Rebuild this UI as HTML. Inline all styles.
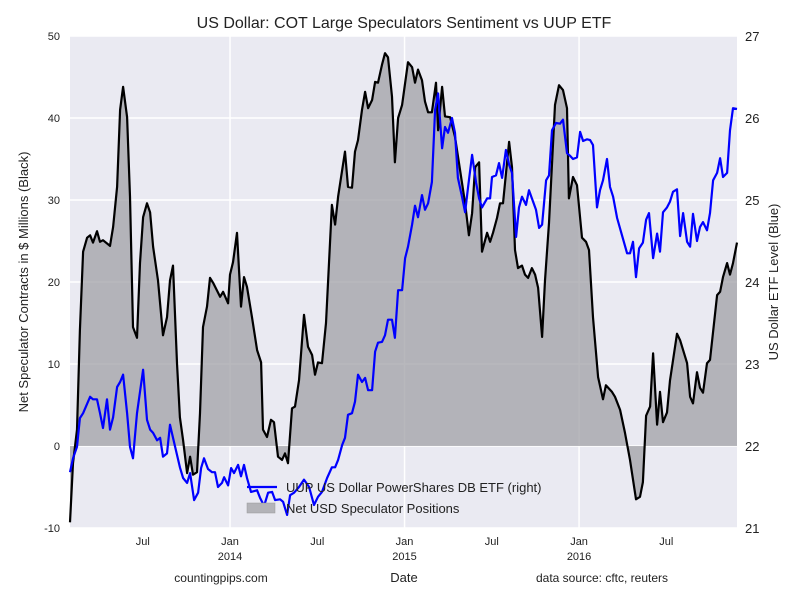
<!DOCTYPE html>
<html><head><meta charset="utf-8"><style>
body{margin:0;background:#fff;}
svg text{font-family:"Liberation Sans",Arial,sans-serif;}
</style></head><body>
<svg id="chart" width="800" height="600" xmlns="http://www.w3.org/2000/svg">
<rect x="0" y="0" width="800" height="600" fill="#fff"/>
<rect x="70" y="36" width="667" height="492" fill="#eaeaf2"/>
<g id="grid"></g>
<g id="marks"></g>
<g id="axes"></g>
<text x="404" y="28" font-size="16" text-anchor="middle" fill="#222">US Dollar: COT Large Speculators Sentiment vs UUP ETF</text>
<text transform="translate(28,282) rotate(-90)" font-size="13" text-anchor="middle" fill="#222">Net Speculator Contracts in $ Millions (Black)</text>
<text transform="translate(778,282) rotate(-90)" font-size="13" text-anchor="middle" fill="#222">US Dollar ETF Level (Blue)</text>
<text x="404" y="582" font-size="13" text-anchor="middle" fill="#222">Date</text>
<text x="221" y="582" font-size="12" text-anchor="middle" fill="#222">countingpips.com</text>
<text x="602" y="582" font-size="12" text-anchor="middle" fill="#222">data source: cftc, reuters</text>
<g>
<line x1="247" y1="487" x2="277" y2="487" stroke="#0000ff" stroke-width="2.2"/>
<text x="286" y="492" font-size="13" fill="#222">UUP US Dollar PowerShares DB ETF (right)</text>
<rect x="247" y="503" width="28" height="10" fill="#b3b3b8" stroke="#999" stroke-width="0.5"/>
<text x="286" y="513" font-size="13" fill="#222">Net USD Speculator Positions</text>
</g>
</svg>
<script>
const netDates=[2013.083,2013.100,2013.123,2013.140,2013.158,2013.181,2013.198,2013.215,2013.238,2013.255,2013.272,2013.312,2013.330,2013.353,2013.370,2013.387,2013.410,2013.427,2013.444,2013.467,2013.484,2013.502,2013.524,2013.542,2013.559,2013.587,2013.616,2013.639,2013.656,2013.673,2013.696,2013.713,2013.731,2013.754,2013.771,2013.788,2013.811,2013.828,2013.845,2013.868,2013.885,2013.903,2013.943,2013.960,2013.989,2014.000,2014.017,2014.040,2014.063,2014.080,2014.097,2014.126,2014.155,2014.178,2014.189,2014.212,2014.235,2014.252,2014.275,2014.298,2014.315,2014.332,2014.355,2014.372,2014.395,2014.424,2014.447,2014.470,2014.487,2014.504,2014.527,2014.550,2014.584,2014.602,2014.619,2014.659,2014.676,2014.699,2014.716,2014.733,2014.756,2014.774,2014.791,2014.814,2014.831,2014.848,2014.871,2014.888,2014.905,2014.928,2014.945,2014.963,2014.986,2015.020,2015.043,2015.060,2015.077,2015.100,2015.117,2015.135,2015.157,2015.180,2015.192,2015.215,2015.232,2015.261,2015.289,2015.318,2015.347,2015.369,2015.387,2015.404,2015.427,2015.444,2015.473,2015.490,2015.507,2015.530,2015.547,2015.564,2015.599,2015.616,2015.633,2015.650,2015.673,2015.690,2015.708,2015.730,2015.748,2015.765,2015.788,2015.805,2015.828,2015.862,2015.885,2015.908,2015.931,2015.942,2015.965,2015.988,2016.017,2016.040,2016.057,2016.080,2016.109,2016.137,2016.154,2016.189,2016.206,2016.235,2016.263,2016.292,2016.326,2016.349,2016.366,2016.384,2016.407,2016.424,2016.447,2016.464,2016.481,2016.504,2016.521,2016.561,2016.579,2016.619,2016.636,2016.653,2016.676,2016.693,2016.710,2016.733,2016.750,2016.791,2016.808,2016.825,2016.848,2016.865,2016.882,2016.905];
const netValues=[-9.3,-2.1,2.0,14.1,23.7,25.4,25.7,24.8,26.2,24.9,25.1,24.4,26.7,31.6,41.0,43.8,40.1,30.4,14.5,13.2,22.3,27.9,29.6,28.5,24.3,20.2,13.5,15.7,20.2,22.0,10.1,3.5,0.7,-3.3,-1.3,-3.5,-3.2,4.0,14.5,17.0,20.5,19.9,18.2,18.8,17.4,20.9,22.4,26.0,17.0,20.6,19.4,15.7,11.7,10.2,2.0,1.1,3.2,2.9,-1.3,-1.7,-0.9,-2.1,4.6,4.8,8.0,16.0,12.1,11.1,8.7,10.2,10.1,15.0,29.4,27.0,30.4,35.9,31.6,31.5,35.9,37.3,41.0,43.2,41.2,42.2,44.4,44.3,46.5,47.9,47.4,42.6,34.6,40.0,41.6,46.8,46.2,44.3,45.9,44.6,42.0,40.7,40.7,44.3,38.5,43.8,40.2,40.1,37.7,33.7,29.6,25.7,28.4,34.0,34.6,23.7,26.0,24.9,26.0,27.8,29.6,29.6,37.1,34.0,23.9,21.7,22.0,20.9,20.5,21.7,20.9,19.3,13.3,20.2,27.2,41.6,44.0,43.4,41.2,30.2,32.8,31.8,25.4,24.9,23.9,15.7,8.4,5.7,7.4,6.6,6.0,4.4,1.6,-1.7,-6.5,-6.2,-4.4,3.7,4.8,11.3,2.6,6.6,2.9,4.1,8.0,13.7,12.9,10.1,6.0,5.2,9.0,7.1,6.5,10.1,10.5,18.4,18.8,20.6,22.3,20.9,22.3,24.8];
const uupDates=[2013.083,2013.100,2013.123,2013.140,2013.158,2013.198,2013.215,2013.238,2013.255,2013.272,2013.295,2013.312,2013.330,2013.353,2013.370,2013.387,2013.410,2013.427,2013.444,2013.467,2013.484,2013.502,2013.524,2013.542,2013.559,2013.582,2013.599,2013.616,2013.639,2013.656,2013.685,2013.713,2013.731,2013.754,2013.771,2013.794,2013.817,2013.834,2013.851,2013.874,2013.897,2013.914,2013.931,2013.954,2013.966,2013.989,2014.006,2014.023,2014.046,2014.063,2014.080,2014.097,2014.120,2014.155,2014.172,2014.195,2014.218,2014.241,2014.258,2014.287,2014.304,2014.327,2014.344,2014.367,2014.395,2014.424,2014.453,2014.481,2014.504,2014.527,2014.556,2014.584,2014.602,2014.619,2014.642,2014.659,2014.676,2014.699,2014.716,2014.733,2014.756,2014.774,2014.791,2014.814,2014.831,2014.848,2014.871,2014.888,2014.905,2014.928,2014.945,2014.963,2014.986,2015.003,2015.020,2015.043,2015.060,2015.077,2015.100,2015.117,2015.135,2015.157,2015.175,2015.192,2015.215,2015.232,2015.249,2015.272,2015.289,2015.306,2015.329,2015.347,2015.364,2015.387,2015.410,2015.427,2015.444,2015.473,2015.490,2015.501,2015.524,2015.541,2015.559,2015.581,2015.599,2015.616,2015.639,2015.656,2015.673,2015.696,2015.713,2015.730,2015.753,2015.771,2015.788,2015.811,2015.828,2015.845,2015.868,2015.891,2015.908,2015.931,2015.948,2015.965,2015.988,2016.006,2016.023,2016.046,2016.063,2016.080,2016.103,2016.120,2016.137,2016.160,2016.177,2016.195,2016.218,2016.246,2016.275,2016.292,2016.309,2016.326,2016.344,2016.366,2016.384,2016.401,2016.424,2016.447,2016.464,2016.481,2016.504,2016.521,2016.538,2016.561,2016.579,2016.596,2016.619,2016.636,2016.653,2016.676,2016.693,2016.710,2016.733,2016.750,2016.768,2016.791,2016.808,2016.825,2016.848,2016.865,2016.882,2016.905];
const uupValues=[21.68,21.85,21.99,22.34,22.40,22.60,22.57,22.57,22.40,22.22,22.57,22.20,22.35,22.72,22.78,22.87,22.40,21.99,21.85,22.40,22.66,22.93,22.32,22.20,22.16,22.07,22.10,21.87,21.91,22.26,21.99,21.74,21.61,21.55,21.67,21.34,21.43,21.73,21.85,21.72,21.68,21.68,21.50,21.55,21.62,21.52,21.73,21.67,21.77,21.63,21.77,21.61,21.44,21.46,21.37,21.27,21.43,21.44,21.34,21.35,21.32,21.16,21.40,21.43,21.50,21.59,21.50,21.28,21.38,21.44,21.61,21.74,21.74,21.83,22.01,22.10,22.38,22.40,22.54,22.87,22.78,22.83,22.68,22.68,23.15,23.26,23.27,23.35,23.54,23.54,23.32,23.90,23.90,24.29,24.43,24.70,24.93,24.79,25.06,24.88,24.96,25.22,26.10,26.30,25.63,25.89,25.82,26.00,25.82,25.27,25.04,24.85,25.16,25.55,25.21,25.02,24.91,25.02,25.02,25.28,25.30,25.45,25.27,25.61,25.43,25.33,24.55,24.91,25.04,24.94,25.12,25.02,24.88,24.66,24.70,25.24,25.30,25.85,25.94,25.93,25.98,25.57,25.54,25.50,25.52,25.83,25.72,25.74,25.73,25.67,24.91,25.12,25.24,25.50,25.16,25.04,24.78,24.57,24.35,24.35,24.49,24.06,24.41,24.48,24.76,24.84,24.29,24.59,24.37,24.85,24.91,24.98,25.10,25.13,24.56,24.84,24.49,24.43,24.83,24.50,24.67,24.73,24.63,24.84,25.24,25.33,25.51,25.28,25.33,25.85,26.12,26.11];
const leftTicks=[-10,0,10,20,30,40,50];
const rightTicks=[21,22,23,24,25,26,27];
const xTickDates=[2013.5,2014.0,2014.5,2015.0,2015.5,2016.0,2016.5];
const xTickLabels=["Jul","Jan\n2014","Jul","Jan\n2015","Jul","Jan\n2016","Jul"];

const X0=70,X1=737,Y0=36,Y1=528;
const dMin=2013.083,dMax=2016.905;
function xs(t){return X0+(t-dMin)/(dMax-dMin)*(X1-X0);}
function yl(v){return Y1-(v+10)/60*(Y1-Y0);}
function yr(v){return Y1-(v-21)/6*(Y1-Y0);}
const NS="http://www.w3.org/2000/svg";
function mk(tag,attrs,parent){const e=document.createElementNS(NS,tag);for(const k in attrs)e.setAttribute(k,attrs[k]);parent.appendChild(e);return e;}
const grid=document.getElementById('grid'),marks=document.getElementById('marks'),axes=document.getElementById('axes');

leftTicks.forEach((v,i)=>{
  const g=mk('line',{x1:X0,x2:X1,y1:yl(v),y2:yl(v),stroke:'#fff','stroke-width':1.5},grid);
  
  
  const t=mk('text',{x:60,y:yl(v)+4,'font-size':11,'text-anchor':'end',fill:'#222'},axes);
  t.textContent=v;
  
  
});
rightTicks.forEach(v=>{
  const t=mk('text',{x:745,y:yr(v)+5,'font-size':13,'text-anchor':'start',fill:'#222'},axes);
  t.textContent=v;
  
  
});
xTickDates.forEach((d,i)=>{
  const x=xs(d);
  const parts=xTickLabels[i].split("\n");
  if(parts.length>1){
    const g=mk('line',{x1:x,x2:x,y1:Y0,y2:Y1,stroke:'#fff','stroke-width':1.5},grid);
    
    
  }
  parts.forEach((p,j)=>{
    const t=mk('text',{x:x,y:545+j*15,'font-size':11,'text-anchor':'middle',fill:'#222'},axes);
    t.textContent=p;
    
    
  });
});

// area fill
let pts=netDates.map((d,i)=>xs(d).toFixed(1)+','+yl(netValues[i]).toFixed(1));
let area='M'+xs(netDates[0]).toFixed(1)+','+yl(0)+' L'+pts.join(' L')+' L'+xs(netDates[netDates.length-1]).toFixed(1)+','+yl(0)+' Z';
const a=mk('path',{d:area,fill:'#a0a0a6','fill-opacity':0.75,stroke:'none'},marks);


const bl=mk('polyline',{points:pts.join(' '),fill:'none',stroke:'#000','stroke-width':2.2,'stroke-linejoin':'round'},marks);


const upts=uupDates.map((d,i)=>xs(d).toFixed(1)+','+yr(uupValues[i]).toFixed(1));
const ul=mk('polyline',{points:upts.join(' '),fill:'none',stroke:'#0000ff','stroke-width':2.2,'stroke-linejoin':'round'},marks);


</script>
</body></html>
